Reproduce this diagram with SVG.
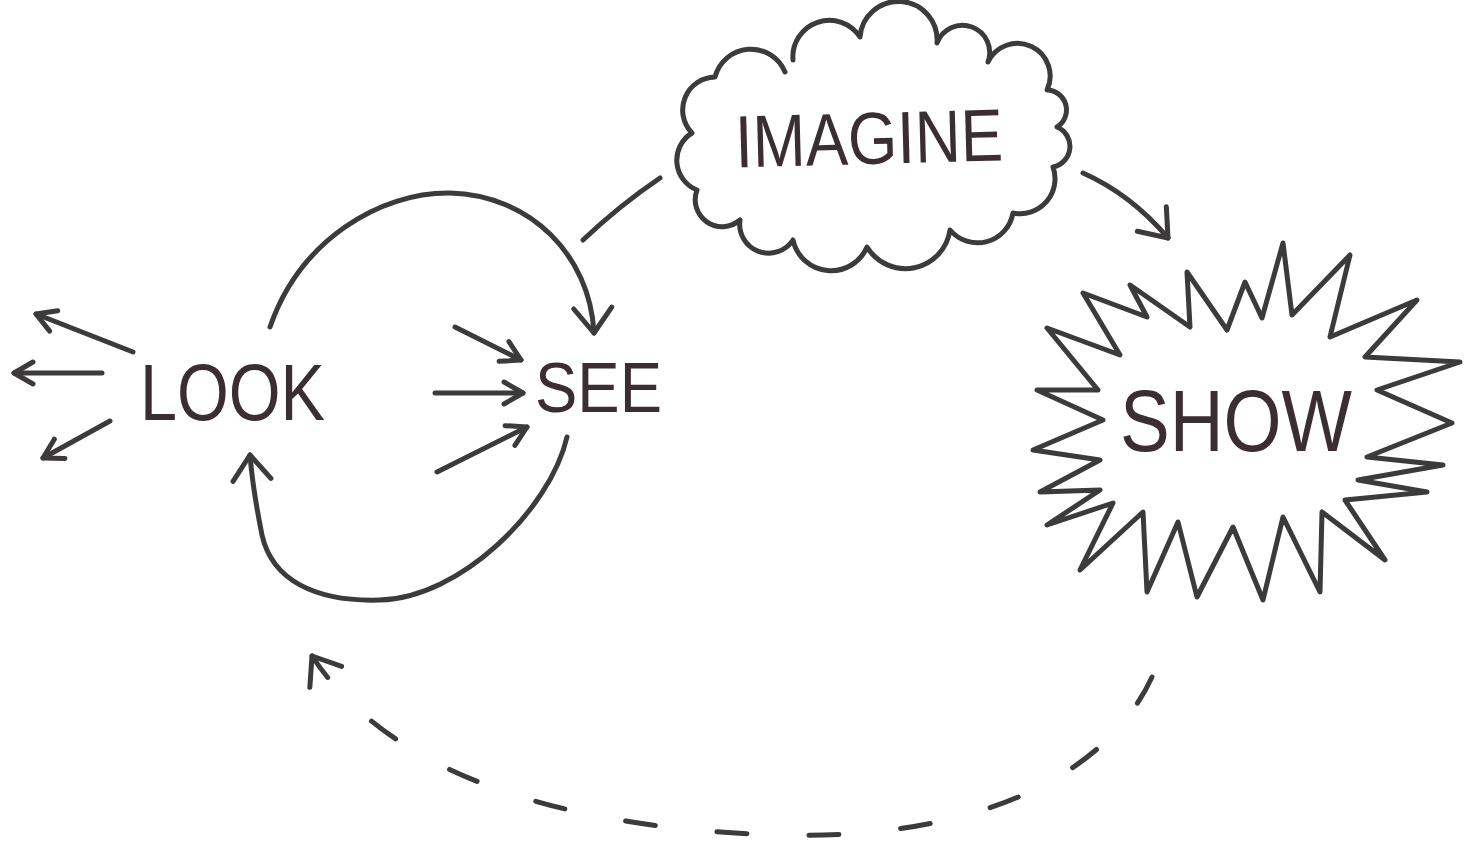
<svg xmlns="http://www.w3.org/2000/svg" width="1479" height="848" viewBox="0 0 1479 848">
<style>
.ln{fill:none;stroke:#3c3a3b;stroke-width:5;stroke-linecap:round;stroke-linejoin:round}
.shape{fill:#fff;stroke:#3c3a3b;stroke-width:5;stroke-linejoin:round;stroke-linecap:round}
.lbl{font-family:"Liberation Sans","DejaVu Sans",sans-serif;fill:#3b2e33}
</style>
<defs>
<marker id="ahs" viewBox="-22 -16 26 32" markerWidth="26" markerHeight="32" refX="0" refY="0" orient="auto" markerUnits="userSpaceOnUse" overflow="visible">
<path d="M-19,-11 L0,0 L-19,11" fill="none" stroke="#3c3a3b" stroke-width="5" stroke-linecap="round" stroke-linejoin="round"/>
</marker>
<marker id="ahb" viewBox="-30 -22 34 44" markerWidth="34" markerHeight="44" refX="0" refY="0" orient="auto" markerUnits="userSpaceOnUse" overflow="visible">
<path d="M-25,-19 L0,0 L-25,19" fill="none" stroke="#3c3a3b" stroke-width="5" stroke-linecap="round" stroke-linejoin="round"/>
</marker>
</defs>
<rect width="1479" height="848" fill="#fff"/>

<g id="connectors">
<path class="ln" d="M133,352 L36,314" marker-end="url(#ahs)"/>
<path class="ln" d="M102,373 L14,373" marker-end="url(#ahs)"/>
<path class="ln" d="M110,421 L43,458" marker-end="url(#ahs)"/>
<path class="ln" d="M455,327 L521,360" marker-end="url(#ahs)"/>
<path class="ln" d="M435,393 L523,393" marker-end="url(#ahs)"/>
<path class="ln" d="M437,472 L527,427" marker-end="url(#ahs)"/>
<path class="ln" d="M270,327 C300,240 380,192 450,193 C530,195 590,255 594,333" marker-end="url(#ahb)"/>
<path class="ln" d="M567,437 C550,510 460,598 380,600 C315,602 272,580 262,535 C256,505 252,480 250,455" marker-end="url(#ahb)"/>
<path class="ln" d="M660,178 Q620,205 583,240"/>
<path class="ln" d="M1083,173 C1110,185 1140,205 1168,238" marker-end="url(#ahb)"/>
<path class="ln" d="M1152,677 C1100,790 950,840 780,835 C600,830 400,790 312,656" stroke-dasharray="30 62" marker-end="url(#ahb)"/>
</g>

<g id="node-imagine">
<path class="shape" d="M785,72 A37,37 0 0 0 715,77 A33,33 0 0 0 692,133 A32,32 0 0 0 697,190 A27,27 0 0 0 740,220 A29,29 0 0 0 793,240 A39,39 0 0 0 867,247 A45,45 0 0 0 950,230 A36,36 0 0 0 1013,213 A35,35 0 0 0 1053,167 A21,21 0 0 0 1057,127 A20,20 0 0 0 1047,90 A32,32 0 0 0 988,62 A27,27 0 0 0 937,43 A37,37 0 0 0 860,37 A36.5,36.5 0 0 0 793,60"/>
<text class="lbl" x="735" y="164" font-size="74" textLength="268" lengthAdjust="spacingAndGlyphs" transform="rotate(-1.5 870 140)">IMAGINE</text>
</g>

<g id="node-show">
<path class="shape" d="M1047,328 L1120,355 L1083,293 L1147,317 L1130,285 L1190,327 L1187,272 L1227,330 L1245,282 L1262,318 L1283,243 L1292,315 L1350,255 L1330,337 L1417,300 L1365,357 L1460,362 L1377,390 L1452,423 L1367,457 L1443,465 L1358,480 L1427,492 L1345,500 L1385,560 L1322,512 L1320,592 L1283,517 L1263,600 L1233,527 L1197,597 L1178,522 L1147,592 L1143,512 L1080,570 L1113,503 L1047,525 L1100,490 L1040,492 L1100,460 L1033,450 L1103,420 L1037,390 L1098,390 Z"/>
<text class="lbl" x="1120" y="451" font-size="88" textLength="232" lengthAdjust="spacingAndGlyphs">SHOW</text>
</g>

<g id="node-look">
<text class="lbl" x="140" y="420" font-size="80" textLength="185" lengthAdjust="spacingAndGlyphs">LOOK</text>
</g>

<g id="node-see">
<text class="lbl" x="535" y="412" font-size="70" textLength="127" lengthAdjust="spacingAndGlyphs">SEE</text>
</g>
</svg>
